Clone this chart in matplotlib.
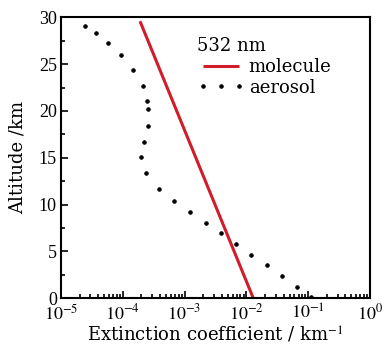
import matplotlib
matplotlib.use("Agg")
import matplotlib.pyplot as plt
from matplotlib.ticker import LogLocator, MultipleLocator, FixedFormatter, FixedLocator, NullFormatter

plt.rcParams['font.family'] = ['Liberation Serif', 'DejaVu Serif']
plt.rcParams['mathtext.fontset'] = 'stix'

# molecular extinction (straight line in log-x), altitude in km
mol_alt = [0.0, 29.6]
mol_ext = [1.29e-2, 1.9e-4]

# aerosol extinction profile, one value per dot in the picture
aer_alt = [29.12, 28.31, 27.30, 25.99, 24.39, 22.67, 21.07, 20.18, 18.43, 16.72,
           15.05, 13.34, 11.66, 10.41, 9.20, 8.07, 6.92, 5.75, 4.62, 3.50,
           2.32, 1.21, 0.14]
aer_ext = [2.44e-5, 3.68e-5, 5.82e-5, 9.25e-5, 1.48e-4, 2.10e-4, 2.49e-4, 2.59e-4,
           2.53e-4, 2.23e-4, 1.97e-4, 2.35e-4, 3.85e-4, 6.81e-4, 1.22e-3, 2.19e-3,
           3.84e-3, 6.79e-3, 1.20e-2, 2.13e-2, 3.81e-2, 6.67e-2, 1.13e-1]

xticks = [1e-5, 1e-4, 1e-3, 1e-2, 1e-1, 1e0]
xtick_labels = [r'$10^{-5}$', r'$10^{-4}$', r'$10^{-3}$', r'$10^{-2}$', r'$10^{-1}$', r'$10^{0}$']
yticks = [0, 5, 10, 15, 20, 25, 30]

label_font = {'family': 'DejaVu Serif', 'size': 13}

fig = plt.figure(figsize=(3.87, 3.52), dpi=100)
ax = fig.add_axes([0.1576, 0.1534, 0.7984, 0.7969])

ax.plot(mol_ext, mol_alt, color='#d01c2b', lw=2.2, solid_capstyle='butt', label='molecule')
ax.plot(aer_ext, aer_alt, color='black', linestyle='none', marker='o', ms=2.6, mew=0.6,
        label='aerosol')

ax.set_xscale('log')
ax.set_xlim(1e-5, 1e0)
ax.set_ylim(0, 30)

ax.xaxis.set_major_locator(FixedLocator(xticks))
ax.xaxis.set_major_formatter(FixedFormatter(xtick_labels))
ax.xaxis.set_minor_locator(LogLocator(base=10, subs=range(2, 10), numticks=20))
ax.xaxis.set_minor_formatter(NullFormatter())
ax.set_yticks(yticks)
ax.yaxis.set_minor_locator(MultipleLocator(2.5))

ax.tick_params(which='both', direction='in', top=False, right=False, labelsize=13, width=1.2)
ax.tick_params(which='major', length=5, pad=4)
ax.tick_params(axis='y', pad=3)
ax.tick_params(which='minor', length=3)
for s in ax.spines.values():
    s.set_linewidth(1.5)

ax.set_xlabel('Extinction coefficient / km$^{-1}$', fontdict=label_font, labelpad=1)
ax.set_ylabel('Altitude /km', fontdict=label_font, labelpad=9)

leg = ax.legend(title='532 nm', loc='upper left', bbox_to_anchor=(0.40, 0.975), frameon=False,
                prop={'family': 'DejaVu Serif', 'size': 13}, numpoints=3,
                handlelength=2.6, handletextpad=0.25, labelspacing=0.15, borderpad=0.2)
leg.get_title().set_fontproperties({'family': 'DejaVu Serif', 'size': 13})
leg._legend_box.align = 'left'

fig.savefig('out.png', dpi=100)
